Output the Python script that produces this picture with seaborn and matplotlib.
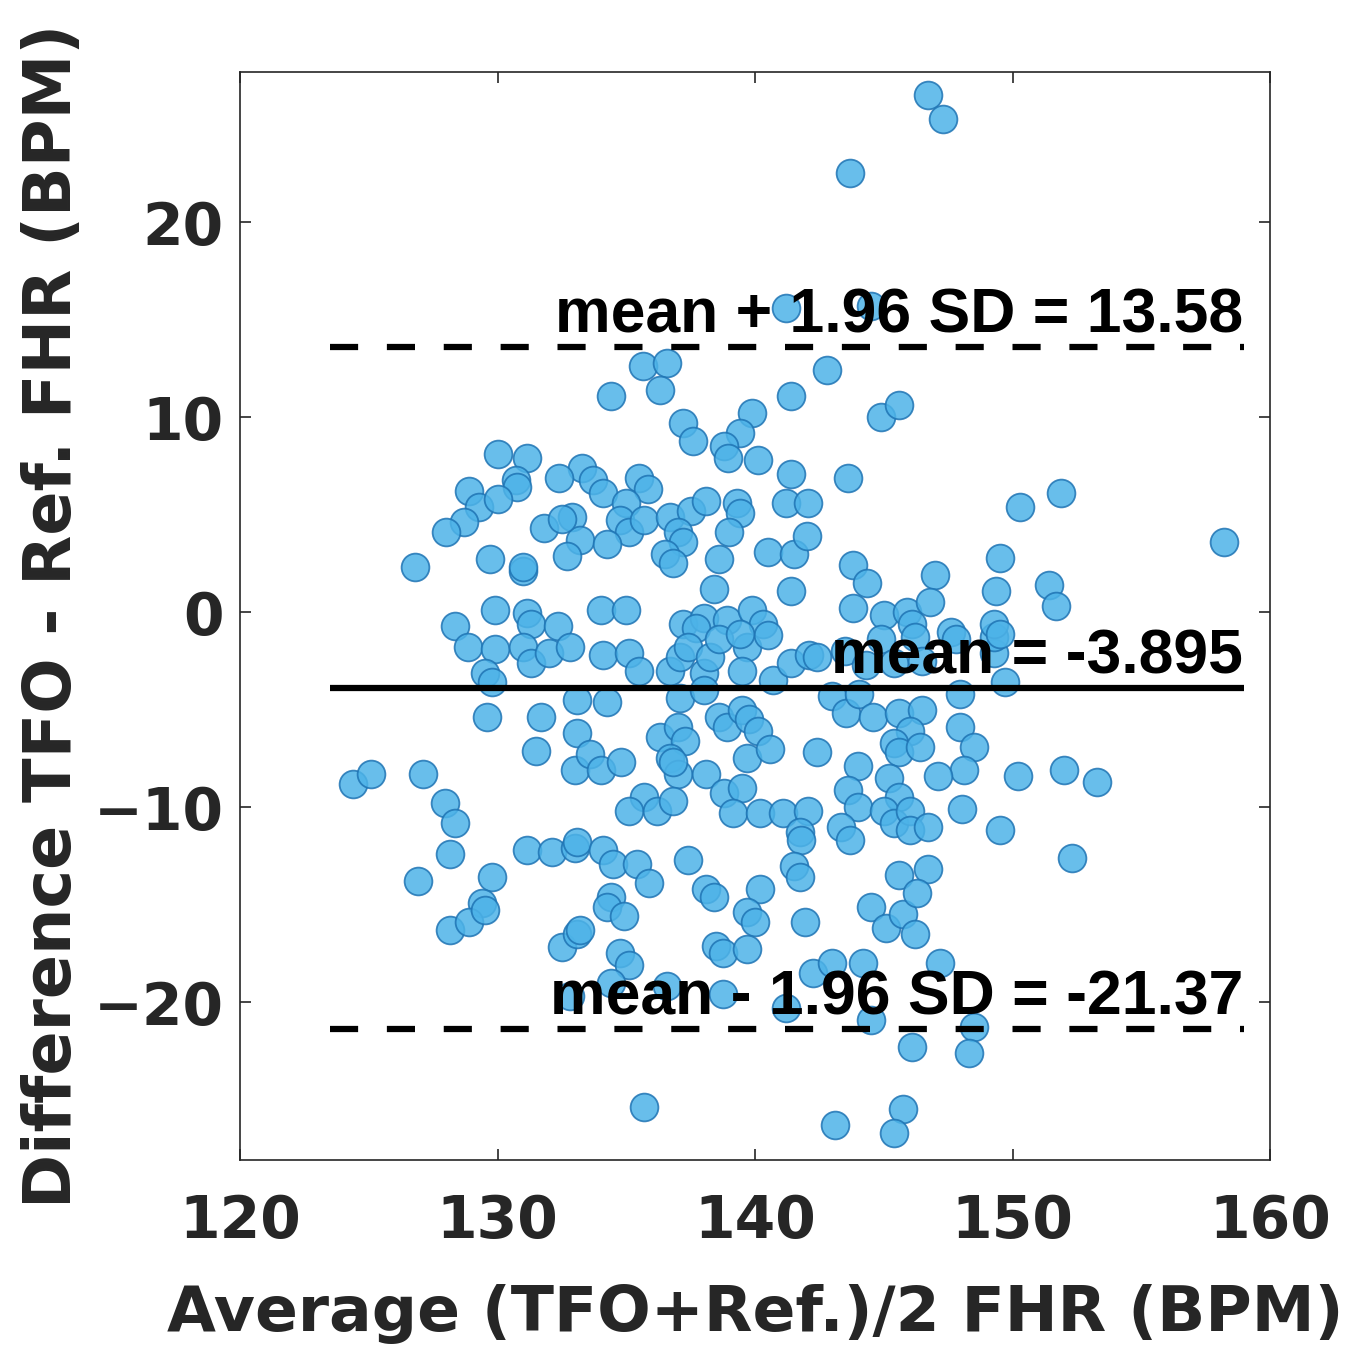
import matplotlib
matplotlib.use("Agg")
import matplotlib.pyplot as plt
import seaborn as sns
import numpy as np
import pandas as pd

# ---- data ----
avg_fhr = [
    146.7, 147.3, 143.7, 141.2, 144.5, 142.8,
    135.65, 136.6, 136.3, 134.4, 141.4, 137.2, 137.6, 139.9, 139.4, 138.8, 138.95, 140.1, 141.4, 141.2,
    142.05, 133.3, 133.7, 134.1, 135.5, 135.85, 132.9, 135.0, 134.75, 135.1, 135.7, 133.2, 134.25, 136.7,
    137.5, 138.1, 139.3, 139.4, 137.0, 137.2, 139.0, 136.5, 136.8, 138.6, 140.5, 141.5, 142.0, 138.4,
    141.4, 134.0, 135.0, 137.2, 138.0, 138.9, 139.9, 140.3, 137.7,
    130.0, 131.15, 130.7, 130.75, 132.4, 128.9, 129.3, 130.0, 128.7, 128.0, 131.8, 132.5, 132.7, 126.8,
    129.7, 131.0, 131.0, 129.9, 128.35, 131.15, 131.3, 132.35,
    128.85, 129.9, 131.0, 131.3, 132.0, 132.8, 129.5, 129.8, 129.6, 131.7, 131.5, 133.1, 133.1, 133.0,
    124.4, 125.1, 127.1, 127.95, 128.35, 128.15, 126.9, 129.8, 131.15, 132.1, 133.0, 129.4,
    128.15, 128.9, 129.5, 132.5, 133.1, 132.8,
    134.1, 135.1, 135.5, 136.7, 137.1, 137.4, 138.0, 138.25, 138.6, 139.7, 139.5, 140.7, 141.4, 142.1,
    140.5, 139.4, 134.25, 137.1, 138.0, 138.6, 138.9, 139.5, 139.75, 140.1, 136.3, 137.0, 137.3, 136.7,
    137.0, 136.8, 133.6, 134.0, 134.8, 139.7, 140.6, 142.4, 138.1, 138.8, 139.5, 139.15, 135.7, 135.1,
    136.2, 136.8, 140.2, 141.1, 142.05, 141.75, 141.8, 133.1, 134.1, 134.5, 135.4, 135.9, 137.4, 141.5,
    141.75, 138.1, 138.4, 140.2, 134.4,
    134.25, 134.9, 133.2, 134.75, 135.1, 134.4, 136.6, 138.5, 138.75, 139.7, 140.0, 139.7, 141.95,
    138.75, 141.2, 142.25, 135.7,
    144.5, 145.1, 145.75, 146.2, 143.0, 144.2, 144.5, 147.2, 148.5, 148.3, 146.1, 143.1, 145.75, 145.4,
    142.4, 143.0, 143.55, 144.05, 144.6, 145.6, 146.5, 146.0, 145.4, 145.6, 146.4, 147.95, 148.5, 148.1,
    147.1, 150.2, 152.0, 144.0, 143.6, 144.0, 145.2, 145.6, 145.0, 145.4, 146.0, 146.0, 146.7, 143.35,
    143.7, 148.05, 149.5, 145.6, 146.7, 146.3, 149.3, 149.7, 147.95, 149.3,
    144.9, 145.6, 143.6, 150.3, 151.9, 149.5, 149.35, 151.4, 151.7, 143.8, 144.35, 147.0, 143.8, 145.0,
    145.9, 146.1, 146.8, 147.6, 149.3, 149.5,
    158.2, 153.3, 152.3,
    144.9, 146.2, 147.8, 143.5, 144.3, 145.4, 146.5,
]
diff_fhr = [
    26.5, 25.3, 22.5, 15.6, 15.7, 12.4,
    12.6, 12.8, 11.4, 11.1, 11.1, 9.7, 8.8, 10.2, 9.2, 8.5, 7.9, 7.8, 7.1, 5.6,
    5.6, 7.4, 6.8, 6.1, 6.9, 6.3, 4.9, 5.6, 4.7, 4.1, 4.7, 3.7, 3.5, 4.9,
    5.2, 5.7, 5.6, 5.1, 4.1, 3.6, 4.1, 3.0, 2.5, 2.7, 3.1, 3.0, 3.9, 1.2,
    1.1, 0.1, 0.1, -0.6, -0.3, -0.4, 0.1, -0.6, -0.8,
    8.1, 7.9, 6.8, 6.4, 6.9, 6.2, 5.4, 5.8, 4.6, 4.1, 4.3, 4.8, 2.9, 2.3,
    2.7, 2.1, 2.3, 0.1, -0.7, -0.05, -0.6, -0.7,
    -1.8, -1.9, -1.8, -2.6, -2.1, -1.8, -3.1, -3.6, -5.4, -5.4, -7.1, -4.5, -6.2, -8.1,
    -8.8, -8.3, -8.3, -9.8, -10.8, -12.4, -13.8, -13.6, -12.2, -12.3, -12.1, -14.9,
    -16.3, -15.9, -15.3, -17.2, -16.5, -19.7,
    -2.2, -2.1, -3.0, -3.0, -2.3, -1.8, -3.1, -2.3, -1.4, -1.8, -3.0, -3.5, -2.6, -2.2,
    -1.2, -1.1, -4.6, -4.4, -4.0, -5.4, -5.9, -5.0, -5.5, -6.1, -6.4, -5.9, -6.6, -7.5,
    -8.3, -7.7, -7.3, -8.1, -7.7, -7.5, -7.0, -7.2, -8.3, -9.3, -9.0, -10.3, -9.5, -10.2,
    -10.2, -9.7, -10.3, -10.3, -10.2, -11.3, -11.7, -11.8, -12.2, -12.9, -12.9, -13.9, -12.7, -13.0,
    -13.6, -14.2, -14.6, -14.2, -14.6,
    -15.1, -15.6, -16.3, -17.5, -18.1, -19.0, -19.2, -17.1, -17.5, -15.4, -15.9, -17.3, -15.9,
    -19.6, -20.3, -18.5, -25.4,
    -15.1, -16.2, -15.5, -16.5, -18.0, -18.0, -20.9, -18.0, -21.3, -22.6, -22.3, -26.3, -25.5, -26.7,
    -2.3, -4.3, -5.2, -4.2, -5.4, -5.2, -5.0, -6.1, -6.7, -7.2, -6.9, -5.9, -6.9, -8.1,
    -8.4, -8.4, -8.1, -7.9, -9.1, -10.0, -8.5, -9.5, -10.2, -10.8, -10.2, -11.2, -11.0, -11.0,
    -11.7, -10.1, -11.2, -13.5, -13.2, -14.4, -2.1, -3.6, -4.2, -1.3,
    10.0, 10.6, 6.9, 5.4, 6.1, 2.8, 1.1, 1.4, 0.3, 2.4, 1.5, 1.9, 0.2, -0.15,
    0.0, -0.6, 0.5, -1.0, -0.6, -1.1,
    3.6, -8.7, -12.6,
    -1.4, -1.3, -1.4, -2.0, -2.7, -2.6, -2.5,
]

mean_diff = -3.895
upper_loa = 13.58
lower_loa = -21.37
line_labels = ["mean + 1.96 SD = 13.58", "mean = -3.895", "mean - 1.96 SD = -21.37"]
x_ticks = [120, 130, 140, 150, 160]
y_ticks = [-20, -10, 0, 10, 20]

df = pd.DataFrame({"avg": avg_fhr, "diff": diff_fhr})

sns.set_theme(style="ticks")
plt.rcParams["font.family"] = ["DejaVu Sans"]

fig = plt.figure(figsize=(13.6, 13.49), dpi=100)
ax = fig.add_axes([240 / 1360, 1 - 1160 / 1349, (1270 - 240) / 1360, (1160 - 72) / 1349])

sns.scatterplot(data=df, x="avg", y="diff", ax=ax, s=400, color=(0.30, 0.70, 0.91),
                alpha=0.85, edgecolor="#1f74b4", linewidth=1.3, zorder=2, legend=False)

X0, X1 = 123.5, 159.0
ax.plot([X0, X1], [mean_diff, mean_diff], color="black", lw=4.5, zorder=3, solid_capstyle="butt")
for yv in (upper_loa, lower_loa):
    ax.plot([X0, X1], [yv, yv], color="black", lw=4.5, zorder=3,
            linestyle=(0, (4.5, 4.6)), dash_capstyle="butt")

for yv, lab in zip((upper_loa, mean_diff, lower_loa), line_labels):
    ax.text(X1 - 0.05, yv + 0.75, lab, ha="right", va="baseline", fontsize=45,
            fontweight="bold", family="Liberation Sans", color="black", zorder=4)

ax.set_xlim(120, 160)
ax.set_ylim(-28.1, 27.7)
ax.set_xticks(x_ticks)
ax.set_yticks(y_ticks)
ax.tick_params(axis="both", direction="in", length=8, width=1.2, colors="#262626",
               top=True, right=True, labelsize=42)
ax.tick_params(axis="x", pad=24)
ax.tick_params(axis="y", pad=12)
for lab in ax.get_xticklabels() + ax.get_yticklabels():
    lab.set_fontweight("bold")
for sp in ax.spines.values():
    sp.set_visible(True)
    sp.set_color("#262626")
    sp.set_linewidth(1.2)

ax.set_xlabel("Average (TFO+Ref.)/2 FHR (BPM)", fontsize=45.5, fontweight="bold", color="#262626", labelpad=24)
ax.set_ylabel("Difference TFO - Ref. FHR (BPM)", fontsize=47, fontweight="bold", color="#262626", labelpad=6)

fig.savefig("out.png", dpi=100, facecolor="white")
